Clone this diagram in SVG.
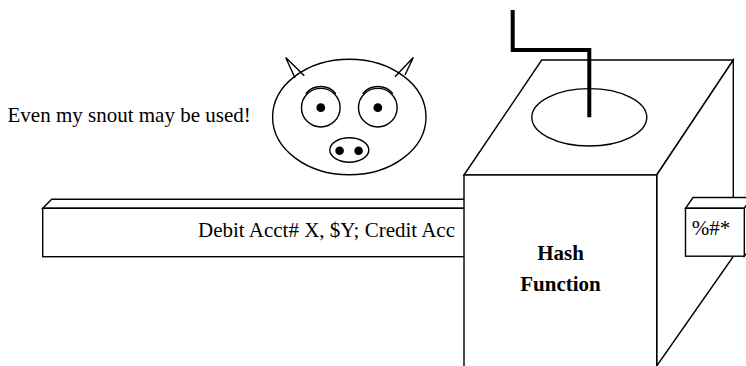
<svg xmlns="http://www.w3.org/2000/svg" width="746" height="366" viewBox="0 0 746 366">
  <style>
    .ln { fill: none; stroke: #000; stroke-width: 1.4; stroke-linejoin: miter; }
    .face { fill: #fff; stroke: #000; stroke-width: 1.4; }
    .dot { fill: #000; }
  </style>
  <rect width="746" height="366" fill="#fff"/>

  <g font-family="'Liberation Serif', 'Times New Roman', Times, serif" font-size="21" fill="#000">
  <!-- caption -->
  <g id="caption">
    <text x="7.5" y="121.5">Even my snout may be used!</text>
  </g>

  <!-- pig -->
  <g id="pig">
    <ellipse class="face" cx="349.3" cy="117" rx="76.7" ry="57.8"/>
    <polyline class="ln" points="295,78 285.7,57.5 304.3,75.7"/>
    <polyline class="ln" points="395,76.7 413.3,57.5 405,75"/>
    <!-- eyes -->
    <circle class="face" cx="320.8" cy="107.7" r="19.3"/>
    <circle class="dot" cx="320.8" cy="107.7" r="4.4"/>
    <path class="ln" d="M305.8,93.7 A19.3 19.3 0 0 1 335.8,93.7"/>
    <circle class="face" cx="377.8" cy="107.7" r="19.3"/>
    <circle class="dot" cx="377.8" cy="107.7" r="4.4"/>
    <path class="ln" d="M362.8,93.7 A19.3 19.3 0 0 1 392.8,93.7"/>
    <!-- snout -->
    <ellipse class="face" cx="349.3" cy="150" rx="19.5" ry="12.2"/>
    <circle class="dot" cx="339.6" cy="150.7" r="4.3"/>
    <circle class="dot" cx="358.6" cy="150.7" r="4.3"/>
  </g>

  <!-- input message bar -->
  <g id="message">
    <polygon class="face" points="42.7,208.3 51.7,199.3 470,199.3 470,208.3"/>
    <rect class="face" x="42.7" y="208.3" width="427.3" height="48.4"/>
    <text x="198" y="236.7">Debit Acct# X, $Y; Credit Acc</text>
  </g>

  <!-- hash function box -->
  <g id="hash-function">
    <polygon class="face" points="464,175 541.7,60 733.3,60 656.7,175"/>
    <polygon class="face" points="656.7,175 733.3,60 733.3,256.5 656.7,366"/>
    <rect class="face" x="464" y="175" width="192.7" height="195"/>
    <ellipse class="face" cx="589.3" cy="117.3" rx="57.5" ry="28.7"/>
    <polyline points="512.7,10 512.7,50 589.3,50 589.3,117.3" fill="none" stroke="#000" stroke-width="4" stroke-linejoin="miter"/>
    <text x="560.5" y="260" text-anchor="middle" font-weight="bold">Hash</text>
    <text x="560.5" y="291" text-anchor="middle" font-weight="bold">Function</text>
  </g>

  <!-- hashed output -->
  <g id="digest">
    <polygon class="face" points="685.5,208.3 693,197.5 752,197.5 744.3,208.3"/>
    <polygon class="face" points="744.3,208.3 752,197.5 752,245.5 744.3,256.2"/>
    <rect class="face" x="685.5" y="208.3" width="58.8" height="47.9"/>
    <text x="691.7" y="235">%#*</text>
  </g>
  </g>
</svg>
